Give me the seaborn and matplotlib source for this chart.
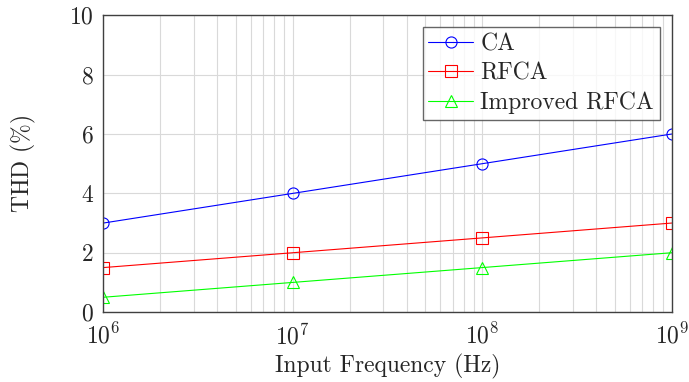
import pandas as pd
import matplotlib
matplotlib.use("Agg")
import matplotlib.pyplot as plt
import seaborn as sns
import numpy as np

# data
freq = [1e6, 1e7, 1e8, 1e9]
thd_ca = [3, 4, 5, 6]
thd_rfca = [1.5, 2, 2.5, 3]
thd_improved = [0.5, 1, 1.5, 2]

df = pd.DataFrame({
    'freq': freq * 3,
    'thd': thd_ca + thd_rfca + thd_improved,
    'method': ['CA'] * 4 + ['RFCA'] * 4 + ['Improved RFCA'] * 4,
})

sns.set_style("white")
plt.rcParams['font.family'] = ['cmr10', 'DejaVu Serif']
plt.rcParams['mathtext.fontset'] = 'cm'
plt.rcParams['axes.formatter.use_mathtext'] = True

fig, ax = plt.subplots(figsize=(6.89, 3.82), dpi=100)

palette = {'CA': '#0000ff', 'RFCA': '#ff0000', 'Improved RFCA': '#00ff00'}
markers = {'CA': 'o', 'RFCA': 's', 'Improved RFCA': '^'}

for name in ['CA', 'RFCA', 'Improved RFCA']:
    sub = df[df['method'] == name]
    sns.lineplot(data=sub, x='freq', y='thd', ax=ax, color=palette[name],
                 marker=markers[name], markersize=8, markerfacecolor='none',
                 markeredgecolor=palette[name], markeredgewidth=0.8,
                 linewidth=0.8, label=name)

ax.set_xscale('log')
ax.set_xlim(1e6, 1e9)
ax.set_ylim(0, 10)
ax.set_yticks([0, 2, 4, 6, 8, 10])

ax.grid(True, which='major', color='#d9d9d9', linewidth=0.8)
ax.grid(True, which='minor', axis='x', color='#d9d9d9', linewidth=0.8)
ax.tick_params(axis='both', which='both', length=0, labelsize=17)
ax.tick_params(axis='x', pad=8)
ax.tick_params(axis='y', pad=7)
for s in ax.spines.values():
    s.set_color('#404040')
    s.set_linewidth(1.0)

ax.set_xlabel('Input Frequency (Hz)', fontsize=17, labelpad=4)
ax.set_ylabel(r'THD $(\%)$', fontsize=17, labelpad=22)

leg = ax.legend(loc='upper right', fontsize=17, frameon=True, fancybox=False,
                edgecolor='#404040', borderpad=0.25, labelspacing=0.3,
                handlelength=1.9, handletextpad=0.3, borderaxespad=0.5)
leg.get_frame().set_linewidth(1.0)

fig.subplots_adjust(left=0.15, right=0.975, top=0.96, bottom=0.183)
fig.savefig('out.png', dpi=100)
